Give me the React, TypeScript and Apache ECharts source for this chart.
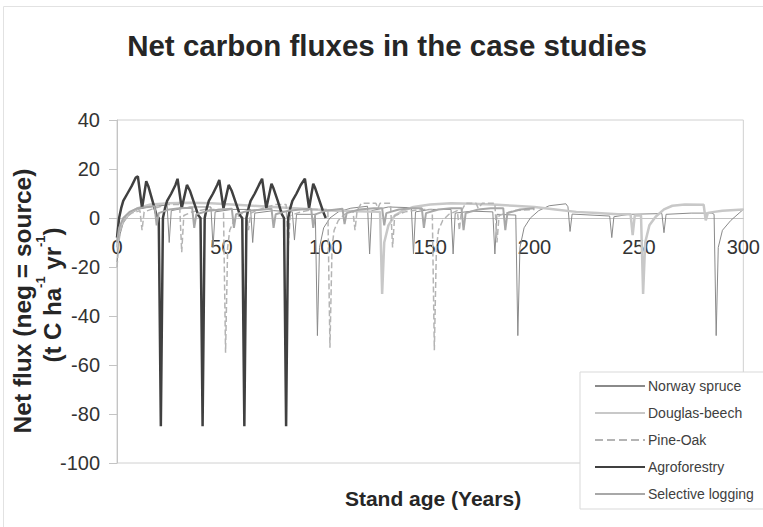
import React, { useEffect, useRef } from "react";
import * as echarts from "echarts";

const FONT = "'Liberation Sans', Arial, sans-serif";

const xTicks = [0, 50, 100, 150, 200, 250, 300];
const yTicks = [-100, -80, -60, -40, -20, 0, 20, 40];

const seriesNames = ["Norway spruce", "Douglas-beech", "Pine-Oak", "Agroforestry", "Selective logging"];

// [stand age (years), net flux (t C / ha / yr)]
const norwaySpruce: number[][] = [
  [0, -18], [1, -8], [3, -2], [6, 1.5], [10, 3.5], [15, 4.5], [20, 5], [24, 5.2], [25, -10], [26, 3],
  [35, 4.5], [45, 4.5], [46, -12], [47, 2.5], [55, 3.5], [64, 3.5], [65, -10], [66, 2], [75, 3],
  [84, 2.5], [85, -9], [86, 1.5], [95, 1.5], [96, -48], [97, -12], [99, -4], [102, 0], [106, 2.5],
  [112, 4], [120, 4.8], [121, -14.7], [122, 3], [130, 4.5], [141, 4.2], [142, -14.6], [143, 2.5],
  [150, 3.5], [160, 3.5], [161, -14.7], [162, 2], [170, 2.8], [180, 2.5], [181, -14.7], [182, 1.5],
  [191, 1.2], [192, -48], [193, -12], [195, -4], [198, 0], [202, 3], [207, 5], [215, 5.8], [216, 4.6],
  [217, -5.5], [218, 1.6], [236, 0.8], [237, -8], [238, 0.5], [245, 1.5], [261, 1.8], [262, -6],
  [263, 1.5], [275, 2], [285, 2], [286, 1.5], [287, -48], [288, -12], [290, -5], [294, -1], [298, 2],
  [300, 3.5],
];

const douglasBeech: number[][] = [
  [0, -12], [1, -5], [3, -1], [6, 2], [10, 4], [16, 5.5], [25, 6], [35, 6.2], [45, 6], [55, 5.5],
  [65, 5], [75, 4.5], [85, 4], [95, 3.5], [105, 3], [115, 2.8], [126, 2.5], [127, -31], [128, -10],
  [130, -3], [133, 1], [137, 3], [142, 4.5], [150, 5.5], [160, 6], [170, 5.8], [180, 5.5], [190, 5],
  [200, 4.5], [210, 3.5], [220, 2.5], [230, 2], [240, 1.5], [246, 1.5], [247, -7], [248, 1],
  [251, 1], [252, -31], [253, -10], [255, -3], [258, 0.5], [262, 3.5], [266, 5], [272, 5.5],
  [281, 5.4], [282, -1], [283, 2], [286, 2.5], [290, 3], [300, 3.5],
];

const pineOak: number[][] = [
  [0, -20], [1, -9], [2, -4], [4, 0], [7, 2], [11, 3], [12, -5], [13, 2.5], [18, 4], [24, 5.5],
  [30, 5.5], [31, -14], [32, 1], [36, 2.5], [42, 3.5], [51, 3.5], [52, -55], [53, -12], [54, -5],
  [56, -1], [59, 1.5], [62, 2.5], [63, -5], [64, 2], [70, 4], [76, 5.5], [81, 5.5], [82, -12],
  [83, 1], [88, 2.5], [94, 3.5], [101, 3.5], [102, -53], [103, -12], [104, -5], [106, -1], [109, 1.5],
  [113, 3], [114, -5], [115, 3], [117, 6], [124, 6], [125, 4], [126, 6], [131, 6], [132, -12],
  [133, 1], [138, 2.5], [145, 3.5], [151, 3.5], [152, -54], [153, -12], [154, -5], [156, -1],
  [159, 1.5], [163, 3], [164, -5], [165, 3], [167, 6], [172, 6], [173, 4], [175, 6], [181, 6],
  [182, -10], [183, 1], [190, 3], [200, 3.5],
];

const agroforestry: number[][] = [
  [0, -8], [1, 0], [2, 4], [3, 7], [5, 10], [7, 13], [9, 16.5], [10, 17], [12, 4], [14, 15], [15, 13],
  [17, 7], [19, 1], [20, 0], [21, -85],
  [22, 0], [23, 4], [24, 7], [26, 10], [28, 13.5], [29, 16], [31, 4], [33.5, 13.5], [35, 11], [37, 6],
  [39, 1], [40, 0], [41, -85],
  [42, 0], [43, 4], [44, 7], [46, 10], [48, 13.5], [49, 15.5], [51, 4], [53.5, 13.5], [55, 11],
  [57, 6], [59, 1], [60, 0], [61, -85],
  [62, 0], [63, 4], [64, 7], [66, 10], [68, 13.5], [69.5, 16], [71.5, 4], [74, 14], [75, 12],
  [77, 7], [79, 1.5], [80, 0], [81, -85],
  [82, 0], [83, 4], [84, 7], [86, 10], [88, 13.5], [90, 16], [92, 4], [94, 14], [95, 12], [97, 7],
  [99, 2], [100, 0],
];

const selectiveLogging: number[][] = [
  [0, -10], [1, -4], [3, 0], [6, 2.5], [10, 4], [15, 4.5], [18, 4.8], [19, -3], [20, 2], [25, 3.5],
  [30, 4], [36, 4.2], [37, -4], [38, 1.5], [44, 3], [50, 3.5], [55, 3.8], [56, -4], [57, 1.5],
  [63, 3], [70, 3.5], [74, 3.8], [75, -4], [76, 1.5], [82, 3], [88, 3.5], [93, 3.8], [94, -4],
  [95, 1.5], [100, 3], [105, 3.5], [108, 3.8], [109, -2.5], [110, 2], [116, 3.5], [123, 4], [127, 4],
  [128, -3], [129, 2], [135, 3.5], [141, 4], [146, 4], [147, -4], [148, 2], [154, 3.5], [160, 4],
  [165, 4], [166, -5], [167, 2], [173, 3.5], [179, 4], [185, 4], [186, -5], [187, 2], [193, 3.5],
  [200, 4],
];

const seriesData = [norwaySpruce, douglasBeech, pineOak, agroforestry, selectiveLogging];
const seriesStyles = [
  { color: "#8a8a8a", width: 1, type: "solid" },
  { color: "#c8c8c8", width: 2.5, type: "solid" },
  { color: "#b4b4b4", width: 1.5, type: "dashed" },
  { color: "#404040", width: 2.5, type: "solid" },
  { color: "#a8a8a8", width: 2, type: "solid" },
];

export default function App() {
  const ref = useRef<HTMLDivElement>(null);
  useEffect(() => {
    if (!ref.current) return;
    const chart = echarts.init(ref.current, null, { renderer: "svg" });
    const option: any = {
      animation: false,
      backgroundColor: "#ffffff",
      grid: {
        left: 117,
        top: 120,
        width: 633,
        height: 343,
        show: true,
        borderColor: "#d0d0d0",
        borderWidth: 1,
        backgroundColor: "transparent",
      },
      xAxis: {
        type: "value",
        min: xTicks[0],
        max: xTicks[xTicks.length - 1],
        interval: 50,
        offset: -245,
        axisLine: { onZero: false, lineStyle: { color: "#c4c4c4", width: 1 } },
        axisTick: { show: false },
        axisLabel: { fontSize: 20, color: "#333333", margin: 19, fontFamily: FONT },
        splitLine: { show: false },
      },
      yAxis: {
        type: "value",
        min: yTicks[0],
        max: yTicks[yTicks.length - 1],
        interval: 20,
        axisLine: { show: true, onZero: false, lineStyle: { color: "#c4c4c4", width: 1 } },
        axisTick: { show: true, length: 8, lineStyle: { color: "#c4c4c4" } },
        axisLabel: { fontSize: 20, color: "#333333", margin: 17, fontFamily: FONT },
        splitLine: { show: false },
      },
      legend: {
        orient: "vertical",
        left: 580,
        top: 372,
        data: seriesNames,
        itemWidth: 50,
        itemHeight: 12,
        itemGap: 13,
        padding: [7, 10, 8, 14],
        backgroundColor: "#ffffff",
        borderColor: "#d9d9d9",
        borderWidth: 1,
        itemStyle: { opacity: 0 },
        textStyle: { fontSize: 14, color: "#404040", fontFamily: FONT, padding: [0, 0, 0, -2] },
      },
      graphic: [
        {
          type: "rect",
          silent: true,
          z: -10,
          shape: { x: 3.5, y: 6.5, width: 800, height: 600 },
          style: { fill: "none", stroke: "#e2e2e2", lineWidth: 1 },
        },
        {
          type: "text",
          x: 387,
          y: 45,
          style: {
            text: "Net carbon fluxes in the case studies",
            fontSize: 29.5,
            fontWeight: "bold",
            fontFamily: FONT,
            fill: "#262626",
            align: "center",
            verticalAlign: "middle",
            textAlign: "center",
            textVerticalAlign: "middle",
          },
        },
        {
          type: "text",
          x: 433,
          y: 498,
          style: {
            text: "Stand age (Years)",
            fontSize: 21,
            fontWeight: "bold",
            fontFamily: FONT,
            fill: "#262626",
            align: "center",
            verticalAlign: "middle",
            textAlign: "center",
            textVerticalAlign: "middle",
          },
        },
        {
          type: "text",
          x: 22,
          y: 301,
          rotation: Math.PI / 2,
          style: {
            text: "Net flux (neg = source)",
            fontSize: 24.5,
            fontWeight: "bold",
            fontFamily: FONT,
            fill: "#262626",
            align: "center",
            verticalAlign: "middle",
            textAlign: "center",
            textVerticalAlign: "middle",
          },
        },
        {
          type: "text",
          x: 49,
          y: 295,
          rotation: Math.PI / 2,
          style: {
            text: "{b|(t C ha}{s|-1}{b| yr}{s|-1}{b|)}",
            fontFamily: FONT,
            fill: "#262626",
            align: "center",
            verticalAlign: "middle",
            textAlign: "center",
            textVerticalAlign: "middle",
            rich: {
              b: { fontSize: 24, fontWeight: "bold", fontFamily: FONT, fill: "#262626", lineHeight: 30, verticalAlign: "bottom" },
              s: { fontSize: 13, fontWeight: "bold", fontFamily: FONT, fill: "#262626", lineHeight: 14, verticalAlign: "top" },
            },
          },
        },
      ],
      series: seriesNames.map((name, i) => ({
        name,
        type: "line",
        data: seriesData[i],
        symbol: "none",
        showSymbol: false,
        clip: true,
        lineStyle: {
          color: seriesStyles[i].color,
          width: seriesStyles[i].width,
          type: seriesStyles[i].type,
        },
        itemStyle: { color: seriesStyles[i].color },
        emphasis: { disabled: true },
      })),
    };
    chart.setOption(option);
    return () => chart.dispose();
  }, []);
  return (
    <div
      ref={ref}
      style={{ position: "fixed", left: 0, top: 0, width: 763, height: 527, background: "#fff" }}
    />
  );
}
